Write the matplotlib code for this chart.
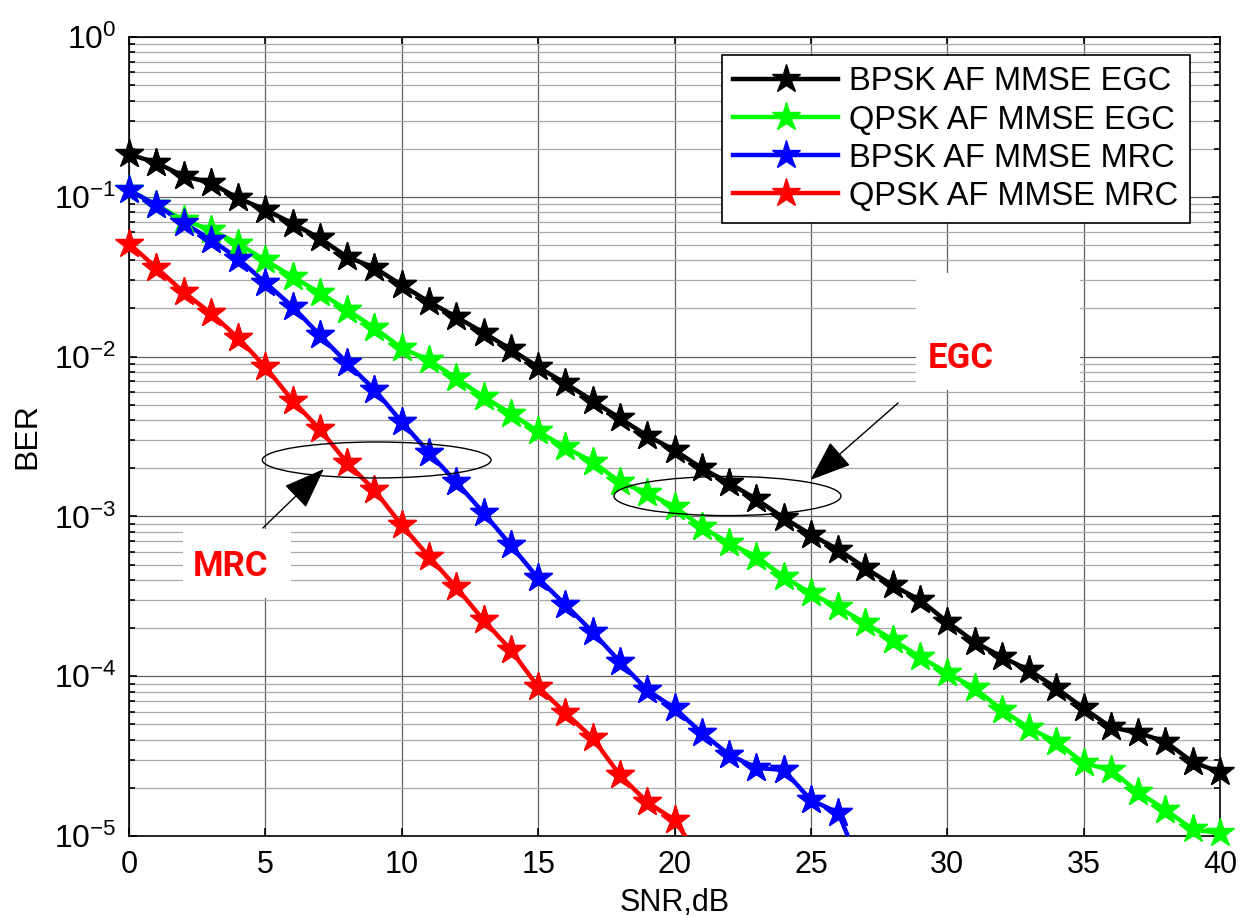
import numpy as np
import matplotlib
matplotlib.use("Agg")
import matplotlib.pyplot as plt
from matplotlib.patches import Ellipse, Rectangle
from matplotlib.ticker import LogLocator

# ---------------- data ----------------
snr = list(range(0, 41))

ber_bpsk_egc = [0.185, 0.163, 0.135, 0.122, 0.098, 0.083, 0.068, 0.055, 0.042, 0.036,
                0.028, 0.022, 0.0177, 0.0141, 0.0111, 0.0086, 0.0068, 0.0053, 0.0041, 0.0032,
                0.0026, 0.0020, 0.00162, 0.00128, 0.00098, 0.00077, 0.00062, 0.000475, 0.00037, 0.00030,
                0.000219, 0.000164, 0.000132, 0.000109, 8.43e-5, 6.3e-5, 4.8e-5, 4.42e-5, 3.89e-5, 2.9e-5,
                2.51e-5]

ber_qpsk_egc = [0.110, 0.089, 0.0716, 0.062, 0.051, 0.040, 0.0316, 0.025, 0.0196, 0.0151,
                0.0113, 0.0095, 0.0073, 0.0056, 0.0044, 0.0034, 0.0027, 0.0022, 0.00164, 0.0014,
                0.00115, 0.00086, 0.00068, 0.00056, 0.00042, 0.00033, 0.00027, 0.000215, 0.000169, 0.000132,
                0.000105, 8.43e-5, 6.16e-5, 4.74e-5, 3.89e-5, 2.86e-5, 2.59e-5, 1.88e-5, 1.46e-5, 1.10e-5,
                1.04e-5]

ber_bpsk_mrc = [0.110, 0.089, 0.0686, 0.054, 0.041, 0.029, 0.0205, 0.0136, 0.0091, 0.0062,
                0.0039, 0.0025, 0.00164, 0.00105, 0.00066, 0.00041, 0.00028, 0.000189, 0.000123, 8.2e-5,
                6.3e-5, 4.42e-5, 3.23e-5, 2.67e-5, 2.59e-5, 1.68e-5, 1.4e-5, 5.4e-6]

ber_qpsk_mrc = [0.051, 0.036, 0.0253, 0.0187, 0.0131, 0.0086, 0.0053, 0.0035, 0.00216, 0.00146,
                0.00088, 0.00056, 0.00036, 0.000224, 0.000146, 8.57e-5, 5.89e-5, 4.1e-5, 2.4e-5, 1.63e-5,
                1.26e-5, 7e-6]

series_labels = ["BPSK AF MMSE EGC", "QPSK AF MMSE EGC", "BPSK AF MMSE MRC", "QPSK AF MMSE MRC"]
series_colors = ["#000000", "#00ff00", "#0000ff", "#ff0000"]
x_ticks = [0, 5, 10, 15, 20, 25, 30, 35, 40]

# ---------------- figure ----------------
plt.rcParams['font.family'] = ['Liberation Sans', 'DejaVu Sans']
plt.rcParams['mathtext.fontset'] = 'custom'
plt.rcParams['mathtext.rm'] = 'Liberation Sans'
plt.rcParams['mathtext.it'] = 'Liberation Sans'

fig = plt.figure(figsize=(12.49, 9.17), dpi=100)
ax = fig.add_axes([0.1033, 0.0883, 0.8735, 0.8714])

ymin, ymax = 1e-5, 1.0
all_series = [ber_bpsk_egc, ber_qpsk_egc, ber_bpsk_mrc, ber_qpsk_mrc]
for ys, lab, col in zip(all_series, series_labels, series_colors):
    xs = np.array(snr[:len(ys)])
    ys = np.array(ys)
    inr = np.where(ys >= ymin)[0]
    ax.plot(xs, ys, color=col, lw=3.2, marker='*', ms=21, markevery=list(inr),
            mec=col, mfc=col, label=lab, zorder=4)
    ax.plot(xs[inr], ys[inr], ls='none', marker='*', ms=21, mec=col, mfc=col,
            clip_on=False, zorder=5)

ax.set_yscale('log')
ax.set_xlim(0, 40)
ax.set_ylim(ymin, ymax)
ax.set_xticks(x_ticks)
ax.set_xticklabels([str(t) for t in x_ticks])
ax.yaxis.set_major_locator(LogLocator(base=10, numticks=10))
ax.yaxis.set_minor_locator(LogLocator(base=10, subs=np.arange(2, 10), numticks=20))

ax.grid(True, which='major', color='#606060', lw=0.9)
ax.grid(True, which='minor', axis='y', color='#a8a8a8', lw=0.9)
ax.set_axisbelow(True)

ax.tick_params(axis='both', which='both', direction='in', top=True, right=True,
               width=1.2, colors='black')
ax.tick_params(axis='y', which='major', labelsize=23, length=6, pad=9)
ax.tick_params(axis='x', which='major', labelsize=22, length=6, pad=10)
ax.tick_params(axis='y', which='minor', length=4)
for sp in ax.spines.values():
    sp.set_linewidth(1.2)

ax.set_xlabel('SNR,dB', fontsize=22, va='center')
ax.xaxis.set_label_coords(0.5, -0.0835)
ax.set_ylabel('BER', fontsize=23, labelpad=8)

leg = ax.legend(loc='upper right', bbox_to_anchor=(0.9725, 0.9775), borderaxespad=0,
                fontsize=23.5, handlelength=3.2, handletextpad=0.35, labelspacing=0.22,
                borderpad=0.35, fancybox=False, framealpha=1, edgecolor='black')
leg.get_frame().set_linewidth(1.2)

# ---------------- annotations ----------------
ax.add_patch(Ellipse((0.227, 0.4706), 0.2097, 0.045, transform=ax.transAxes,
                     fill=False, ec='black', lw=1, zorder=6))
ax.add_patch(Ellipse((0.5485, 0.4255), 0.208, 0.049, transform=ax.transAxes,
                     fill=False, ec='black', lw=1, zorder=6))

ax.add_patch(Rectangle((0.7216, 0.5582), 0.1502, 0.1464, transform=ax.transAxes,
                       fc='white', ec='none', zorder=3))
ax.add_patch(Rectangle((0.0495, 0.2979), 0.0989, 0.0864, transform=ax.transAxes,
                       fc='white', ec='none', zorder=3))

ax.text(0.7619, 0.598, 'EGC', transform=ax.transAxes, color='red', fontsize=25,
        fontweight='bold', fontstretch='condensed', ha='center', va='center',
        family=['Roboto', 'DejaVu Sans'], zorder=7)
ax.text(0.0934, 0.3379, 'MRC', transform=ax.transAxes, color='red', fontsize=25,
        fontweight='bold', fontstretch='condensed', ha='center', va='center',
        family=['Roboto', 'DejaVu Sans'], zorder=7)

ax.annotate('', xy=(0.6245, 0.4456), xytext=(0.705, 0.542), xycoords='axes fraction',
            arrowprops=dict(arrowstyle='-|>,head_length=1.2,head_width=0.45', color='black',
                            lw=1, mutation_scale=22, shrinkA=0, shrinkB=0), zorder=7)
ax.annotate('', xy=(0.1786, 0.4593), xytext=(0.1227, 0.3855), xycoords='axes fraction',
            arrowprops=dict(arrowstyle='-|>,head_length=1.2,head_width=0.45', color='black',
                            lw=1, mutation_scale=22, shrinkA=0, shrinkB=0), zorder=7)

fig.savefig('out.png', dpi=100, facecolor='white')
